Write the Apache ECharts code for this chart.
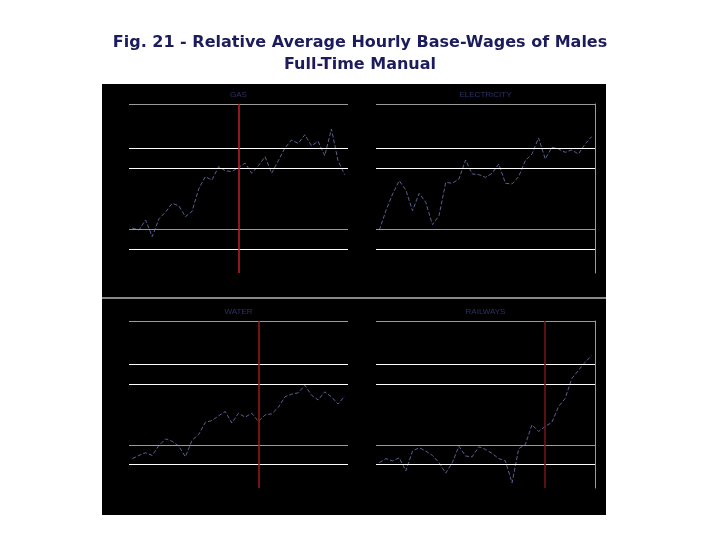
<!DOCTYPE html>
<html><head><meta charset="utf-8">
<script src="https://cdn.jsdelivr.net/npm/echarts@6/dist/echarts.min.js"></script>
<style>html,body{margin:0;padding:0;background:#fff}#c{width:720px;height:540px}</style>
</head><body><div id="c"></div>
<script>
const panelTitles = ['GAS','ELECTRICITY','WATER','RAILWAYS'];
const gas = [26.6,25.4,31.4,21.5,32,36,41.2,39.8,33.3,36.5,49.7,57,55,62.9,60.5,60,62.5,65,59,63.5,68.8,59,66.5,74,78.7,76.7,81.8,75.3,77.9,69.4,85.2,66.5,58.2];
const electricity = [25.4,36.9,46.7,54.6,49.1,36.9,47.1,41.8,28.6,33.9,53.6,53.1,55.6,66.9,58.6,58.2,56.6,59,64.5,53.1,52.7,57,66.5,70.4,79.9,67.5,74.4,73.4,71.4,72.8,70.4,76.3,80.7];
const water = [17.6,19.5,21.1,19.5,25.4,29.4,28,25,18.7,28.6,32,39.3,40.4,43.2,45.8,38.9,44.8,42.4,44.8,39.8,43.8,44.4,48.3,54.6,56.2,57,61.5,55.6,52.7,57.6,54.6,50.3,55];
const railways = [15.2,17.6,16.2,18.1,10.3,22.1,24.1,22.1,19.5,15.2,8.9,15.2,25,19.1,18.7,24.7,23.1,20.7,17.6,16.2,3,23.5,26,37.9,33.9,36.9,39.3,48.7,53.6,65.5,70.4,75.3,79.3];
const refLevels = [100,74,62,25.8,14];
const refColors = ['#9a9a9a','#ffffff','#ffffff','#9a9a9a','#ffffff'];
const redLineIndex = [16,null,19,25];
const redColors = ['#c0202a',null,'#a01818','#7a1414'];
const cats = gas.map((_,i)=>String(i));
const series=[gas,electricity,water,railways];
const grids=[
 {left:129,top:104,width:219,height:169},
 {left:376,top:104,width:219,height:169},
 {left:129,top:321,width:219,height:167},
 {left:376,top:321,width:219,height:167}];
const rightAxis=[false,true,false,true];
const chart=echarts.init(document.getElementById('c'));
const opt={
 animation:false,
 title:{text:'Fig. 21 - Relative Average Hourly Base-Wages of Males\nFull-Time Manual',left:'center',top:27,
   textStyle:{fontFamily:'DejaVu Sans',fontSize:16,fontWeight:'bold',color:'#1c1c5c',lineHeight:22}},
 graphic:[
  {type:'rect',shape:{x:102,y:84,width:504,height:431},style:{fill:'#000'},z:-10},
  {type:'line',shape:{x1:102,y1:298,x2:606,y2:298},style:{stroke:'#888',lineWidth:2},z:-9},
  ...panelTitles.map((t,i)=>({type:'text',x:grids[i].left+grids[i].width/2,y:grids[i].top-9,
    style:{text:t,fill:'#2e3266',font:'8px Liberation Sans',textAlign:'center',textVerticalAlign:'middle'}}))
 ],
 grid:grids,
 xAxis:grids.map((g,i)=>({type:'category',gridIndex:i,data:cats,boundaryGap:true,show:false})),
 yAxis:grids.map((g,i)=>({type:'value',gridIndex:i,min:0,max:100,position:'right',
   splitLine:{show:false},axisLabel:{show:false},axisTick:{show:false},
   axisLine:{show:rightAxis[i],lineStyle:{color:'#9a9a9a',width:1}}})),
 series:series.map((d,i)=>({type:'line',xAxisIndex:i,yAxisIndex:i,data:d,symbol:'none',
   lineStyle:{color:'#5a6090',width:1,type:'dashed'},
   markLine:{silent:true,symbol:'none',label:{show:false},
     data:refLevels.map((v,k)=>({yAxis:v,lineStyle:{color:refColors[k],type:'solid',width:1}}))
       .concat(redLineIndex[i]!==null?[{xAxis:redLineIndex[i],lineStyle:{color:redColors[i],type:'solid',width:1.5}}]:[])}}))
};
chart.setOption(opt);
</script></body></html>
